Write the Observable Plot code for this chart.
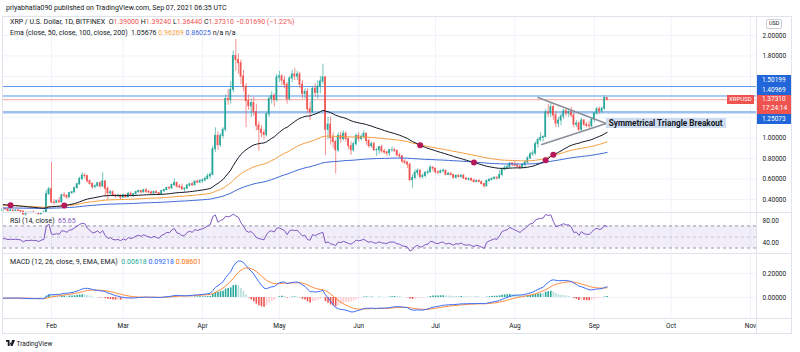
<!DOCTYPE html>
<html><head><meta charset="utf-8">
<script src="https://cdn.jsdelivr.net/npm/d3@7"></script>
<script src="https://cdn.jsdelivr.net/npm/@observablehq/plot@0.6"></script>
<style>
body{margin:0;background:#fff;font-family:Roboto,"Liberation Sans",sans-serif;}
#root{position:relative;width:800px;height:352px;overflow:hidden;background:#fff}
.p{position:absolute;left:0}
.t{position:absolute;font-size:7px;white-space:nowrap;color:#131722;line-height:1}
.ln{position:absolute;background:#e0e3eb}
.lab{position:absolute;left:757px;width:34px;color:#fff;font-size:6.5px;line-height:10px;padding-left:5px;box-sizing:border-box}
</style></head><body><div id="root"></div>
<script>
// ---------- DATA ----------
const startDate = "2021-01-13";
const firstOpen = 0.286;
// [high, low, close] per day; open = previous close
const jan = [[0.318,0.277,0.305],[0.316,0.294,0.303],[0.305,0.275,0.288],[0.301,0.283,0.293],[0.296,0.278,0.289],[0.298,0.283,0.292],[0.305,0.284,0.288],[0.290,0.266,0.283],[0.284,0.245,0.254],[0.276,0.240,0.270],[0.275,0.262,0.267],[0.276,0.263,0.271],[0.285,0.265,0.268],[0.272,0.258,0.268],[0.270,0.250,0.256],[0.272,0.254,0.268],[0.290,0.262,0.272],[0.490,0.268,0.452],[0.520,0.440,0.500]];
const feb = [[0.760,0.360,0.372],[0.400,0.345,0.368],[0.395,0.360,0.382],[0.420,0.365,0.372],[0.455,0.368,0.440],[0.465,0.418,0.436],[0.445,0.400,0.420],[0.470,0.415,0.462],[0.480,0.445,0.470],[0.520,0.462,0.512],[0.560,0.500,0.548],[0.620,0.540,0.600],[0.660,0.585,0.632],[0.650,0.600,0.628],[0.635,0.560,0.578],[0.590,0.540,0.552],[0.560,0.500,0.520],[0.545,0.505,0.530],[0.565,0.520,0.558],[0.575,0.510,0.528],[0.660,0.515,0.575],[0.585,0.420,0.505],[0.520,0.390,0.460],[0.490,0.440,0.470],[0.485,0.430,0.440],[0.450,0.410,0.432],[0.455,0.420,0.438],[0.445,0.395,0.418]];
const mar = [[0.455,0.410,0.440],[0.450,0.412,0.422],[0.470,0.418,0.455],[0.475,0.428,0.442],[0.460,0.420,0.452],[0.480,0.445,0.472],[0.490,0.460,0.482],[0.490,0.455,0.470],[0.500,0.465,0.490],[0.505,0.460,0.475],[0.490,0.455,0.468],[0.480,0.440,0.458],[0.485,0.445,0.472],[0.485,0.455,0.462],[0.470,0.440,0.452],[0.490,0.448,0.482],[0.500,0.470,0.492],[0.520,0.485,0.512],[0.525,0.495,0.508],[0.550,0.500,0.540],[0.600,0.530,0.560],[0.570,0.510,0.525],[0.545,0.505,0.520],[0.550,0.490,0.500],[0.515,0.470,0.505],[0.545,0.500,0.535],[0.560,0.520,0.548],[0.565,0.525,0.540],[0.585,0.530,0.572],[0.590,0.555,0.565],[0.595,0.555,0.578]];
const apr = [[0.600,0.560,0.585],[0.620,0.575,0.600],[0.650,0.590,0.625],[0.660,0.600,0.640],[0.920,0.630,0.890],[1.100,0.860,1.020],[1.060,0.880,0.930],[1.040,0.910,1.020],[1.100,0.990,1.080],[1.420,1.060,1.380],[1.470,1.320,1.370],[1.550,1.330,1.470],[1.850,1.440,1.800],[1.960,1.650,1.760],[1.820,1.620,1.730],[1.760,1.520,1.600],[1.660,1.450,1.500],[1.530,1.100,1.360],[1.420,1.270,1.310],[1.380,1.200,1.340],[1.400,1.210,1.250],[1.330,1.070,1.120],[1.160,0.870,1.080],[1.120,1.000,1.050],[1.080,0.980,1.030],[1.250,1.010,1.230],[1.400,1.200,1.380],[1.450,1.330,1.410],[1.430,1.300,1.370],[1.620,1.350,1.590]];
const may = [[1.650,1.540,1.600],[1.620,1.510,1.560],[1.600,1.480,1.520],[1.540,1.330,1.380],[1.600,1.360,1.580],[1.660,1.540,1.620],[1.680,1.560,1.600],[1.650,1.560,1.620],[1.640,1.480,1.520],[1.560,1.380,1.430],[1.480,1.380,1.450],[1.480,1.240,1.280],[1.350,1.170,1.250],[1.500,1.240,1.480],[1.530,1.400,1.440],[1.560,1.380,1.500],[1.600,1.430,1.550],[1.720,1.520,1.590],[1.600,0.830,1.080],[1.200,0.980,1.130],[1.200,0.930,1.000],[1.050,0.900,0.960],[0.980,0.650,0.880],[1.050,0.860,1.020],[1.060,0.950,0.990],[1.070,0.970,1.040],[1.060,0.960,0.990],[1.000,0.890,0.920],[0.960,0.830,0.880],[0.960,0.860,0.940],[1.040,0.920,1.020]];
const jun = [[1.050,0.960,0.990],[1.030,0.970,1.010],[1.070,0.990,1.040],[1.050,0.930,0.970],[0.990,0.900,0.920],[0.960,0.900,0.940],[0.960,0.870,0.880],[0.900,0.820,0.880],[0.920,0.840,0.910],[0.930,0.850,0.870],[0.890,0.840,0.860],[0.870,0.820,0.850],[0.890,0.820,0.880],[0.910,0.860,0.880],[0.900,0.860,0.875],[0.880,0.820,0.830],[0.850,0.800,0.820],[0.830,0.750,0.770],[0.790,0.740,0.760],[0.770,0.700,0.740],[0.750,0.570,0.590],[0.640,0.510,0.610],[0.690,0.590,0.660],[0.700,0.630,0.680],[0.690,0.600,0.620],[0.650,0.600,0.630],[0.670,0.610,0.660],[0.690,0.640,0.665],[0.730,0.660,0.710],[0.720,0.670,0.700]];
const jul = [[0.705,0.650,0.665],[0.680,0.640,0.660],[0.690,0.650,0.675],[0.700,0.660,0.680],[0.685,0.630,0.640],[0.665,0.630,0.650],[0.665,0.630,0.638],[0.645,0.600,0.612],[0.640,0.600,0.630],[0.640,0.610,0.620],[0.640,0.610,0.632],[0.640,0.595,0.605],[0.615,0.585,0.595],[0.610,0.575,0.600],[0.610,0.575,0.585],[0.600,0.560,0.570],[0.590,0.565,0.580],[0.595,0.565,0.570],[0.580,0.545,0.550],[0.560,0.510,0.530],[0.590,0.520,0.580],[0.600,0.570,0.592],[0.610,0.580,0.602],[0.620,0.590,0.612],[0.620,0.590,0.605],[0.680,0.600,0.640],[0.700,0.620,0.690],[0.730,0.680,0.705],[0.740,0.690,0.715],[0.760,0.700,0.750],[0.760,0.720,0.740]];
const aug = [[0.770,0.720,0.730],[0.750,0.710,0.720],[0.730,0.690,0.710],[0.750,0.700,0.740],[0.780,0.700,0.760],[0.820,0.750,0.800],[0.860,0.790,0.840],[0.880,0.820,0.850],[0.960,0.830,0.940],[1.000,0.900,0.980],[1.050,0.960,1.000],[1.020,0.960,1.010],[1.280,1.000,1.250],[1.330,1.200,1.240],[1.340,1.200,1.300],[1.320,1.170,1.220],[1.260,1.100,1.140],[1.200,1.100,1.170],[1.230,1.120,1.210],[1.280,1.180,1.260],[1.290,1.210,1.240],[1.280,1.200,1.250],[1.300,1.200,1.220],[1.240,1.100,1.130],[1.170,1.100,1.140],[1.160,1.060,1.080],[1.190,1.060,1.170],[1.180,1.110,1.130],[1.150,1.100,1.120],[1.160,1.090,1.115],[1.200,1.100,1.180]];
const sep = [[1.250,1.150,1.240],[1.300,1.220,1.280],[1.300,1.230,1.260],[1.300,1.240,1.285],[1.410,1.270,1.390],[1.3924,1.3644,1.3731]];

// indicator seeds (values on the day before the first candle)
const emaSeeds = {e50: 0.352, e100: 0.344, e200: 0.318};
const macdSeeds = {e12: 0.292, e26: 0.300, sig: -0.006};
const rsiSeeds = {gain: 0.018, loss: 0.022};

const priceTicks = [0.4, 0.6, 0.8, 1.0, 1.2, 1.4, 1.6, 1.8, 2.0];
const rsiTicks = [80, 40];
const rsiLevels = [70, 50, 30];
const macdTicks = [0.2, 0];
const monthNames = ["Feb","Mar","Apr","May","Jun","Jul","Aug","Sep","Oct","Nov"];
const monthDates = ["2021-02-01","2021-03-01","2021-04-01","2021-05-01","2021-06-01","2021-07-01","2021-08-01","2021-09-01","2021-10-01","2021-11-01"];
const hLevels = [
  {value: 1.50199, color: "#5d9cec", w: 1},
  {value: 1.40969, color: "#5d9cec", w: 1},
  {value: 1.25073, color: "#9cc1ee", w: 2.5}
];
const lastPrice = 1.37310;
const lastTime = "17:24:14";
const crossDates = ["2021-01-16","2021-02-06","2021-06-25","2021-07-16","2021-08-13","2021-08-16"];
const triUpper = [{date:"2021-08-10", value:1.395},{date:"2021-09-05T16:00Z", value:1.141}];
const triLower = [{date:"2021-08-11T12:00Z", value:0.937},{date:"2021-09-05T16:00Z", value:1.141}];
const annotationText = "Symmetrical Triangle Breakout";

// ---------- DERIVED ----------
const up = "#26a69a", down = "#ef5350";
const dayMs = 864e5;
const t0 = new Date(startDate + "T00:00Z").getTime();
const rows = [].concat(jan, feb, mar, apr, may, jun, jul, aug, sep);
let prevC = firstOpen;
const candles = rows.map(([h, l, c], i) => {
  const o = prevC; prevC = c;
  return {date: new Date(t0 + i * dayMs), open: o, high: Math.max(h, o, c), low: Math.min(l, o, c), close: c};
});
const closes = candles.map(d => d.close);
function ema(vals, n, seed) { const a = 2 / (n + 1); let e = seed; return vals.map(v => (e = e + a * (v - e))); }
const e50 = ema(closes, 50, emaSeeds.e50), e100 = ema(closes, 100, emaSeeds.e100), e200 = ema(closes, 200, emaSeeds.e200);
const emaData = candles.map((d, i) => ({date: d.date, e50: e50[i], e100: e100[i], e200: e200[i]}));
const e12 = ema(closes, 12, macdSeeds.e12), e26 = ema(closes, 26, macdSeeds.e26);
const macd = e12.map((v, i) => v - e26[i]);
const sig = ema(macd, 9, macdSeeds.sig);
const macdData = candles.map((d, i) => {
  const h = macd[i] - sig[i], ph = i ? macd[i-1] - sig[i-1] : h;
  const col = h >= 0 ? (h >= ph ? "#26a69a" : "#b2dfdb") : (h < ph ? "#ef5350" : "#ffcdd2");
  return {date: d.date, macd: macd[i], sig: sig[i], hist: h, col};
});
let ag = rsiSeeds.gain, al = rsiSeeds.loss;
const rsiData = candles.map((d, i) => {
  const ch = d.close - (i ? candles[i-1].close : firstOpen);
  ag = (ag * 13 + Math.max(ch, 0)) / 14; al = (al * 13 + Math.max(-ch, 0)) / 14;
  return {date: d.date, rsi: 100 - 100 / (1 + ag / al)};
});
const crosses = crossDates.map(s => { const i = Math.round((new Date(s + "T00:00Z") - t0) / dayMs); return {date: candles[i].date, value: e50[i]}; });
const months = monthDates.map((s, i) => ({date: new Date(s + "T00:00Z"), name: monthNames[i]}));
const tri = [triUpper, triLower].map(a => a.map(p => ({date: new Date(p.date.length > 10 ? p.date : p.date + "T00:00Z"), value: p.value})));

const xDomain = [new Date("2021-01-13T06:04Z"), new Date("2021-11-03T08:24Z")];
const W = 800, ML = 3, MR = 44;
const font = 'Roboto, "Liberation Sans", sans-serif';
const base = {width: W, marginLeft: ML, marginRight: MR, marginTop: 0, marginBottom: 0,
  x: {type: "utc", domain: xDomain, axis: null},
  style: {fontFamily: font, fontSize: "6.5px", color: "#131722", background: "transparent", overflow: "visible"}};
const gridX = Plot.ruleX(months, {x: "date", stroke: "#f0f3fa"});
const root = document.getElementById("root");
function place(el, top) { el.classList.add("p"); el.style.top = top + "px"; root.appendChild(el); return el; }

// main pane geometry and axis price labels (stacked like the reference)
const MAIN_TOP = 16, MAIN_H = 196;
const yDomain = [0.273, 2.185];
const yLin = d3.scaleLinear(yDomain, [MAIN_H, 0]);
const py = v => MAIN_TOP + yLin(v);
const redTop = py(lastPrice) - 4.5, redH = 19;
const boxes = [{top: redTop, h: redH, bg: "#ef5350", html: `${d3.format(".5f")(lastPrice)}<br>${lastTime}`}];
let limitTop = redTop, limitBot = redTop + redH;
hLevels.filter(l => l.value > lastPrice).sort((a, b) => a.value - b.value).forEach(l => {
  const bottom = Math.min(py(l.value) + 5, limitTop); boxes.push({top: bottom - 10, h: 10, bg: "#2166d8", html: d3.format(".5f")(l.value)}); limitTop = bottom - 10; });
hLevels.filter(l => l.value < lastPrice).sort((a, b) => b.value - a.value).forEach(l => {
  const top = Math.max(py(l.value) - 5, limitBot); boxes.push({top, h: 10, bg: "#2166d8", html: d3.format(".5f")(l.value)}); limitBot = top + 10; });
const visibleTicks = priceTicks.filter(v => { const y = py(v); return !boxes.some(b => y > b.top - 4 && y < b.top + b.h + 4); });

const main = Plot.plot({...base, height: MAIN_H,
  y: {domain: yDomain, axis: null},
  marks: [
    gridX,
    Plot.ruleY(priceTicks, {stroke: "#f0f3fa"}),
    Plot.axisY(visibleTicks, {anchor: "right", tickSize: 0, tickPadding: 6, tickFormat: d3.format(".5f"), fill: "#131722"}),
    Plot.ruleY(hLevels, {y: "value", stroke: "color", strokeWidth: "w"}),
    Plot.ruleY([lastPrice], {stroke: "#f5a3a3"}),
    Plot.ruleX(candles, {x: "date", y1: "low", y2: "high", stroke: d => d.close >= d.open ? up : down, strokeOpacity: 0.65}),
    Plot.rect(candles, {x1: d => new Date(+d.date - 0.33 * dayMs), x2: d => new Date(+d.date + 0.33 * dayMs), y1: "open", y2: "close", fill: d => d.close >= d.open ? up : down, insetTop: -0.5, insetBottom: -0.5}),
    Plot.line(emaData, {x: "date", y: "e200", stroke: "#3b67d6", strokeWidth: 1}),
    Plot.line(emaData, {x: "date", y: "e100", stroke: "#f59d3d", strokeWidth: 1}),
    Plot.line(emaData, {x: "date", y: "e50", stroke: "#131722", strokeWidth: 1}),
    Plot.dot(crosses, {x: "date", y: "value", fill: "#b5195b", r: 3}),
    Plot.line(tri[0], {x: "date", y: "value", stroke: "#8a8e97"}),
    Plot.line(tri[1], {x: "date", y: "value", stroke: "#8a8e97"})
  ]});
place(main, MAIN_TOP);

// RSI pane
const RSI_TOP = 212, RSI_H = 41;
const rsiPlot = Plot.plot({...base, height: RSI_H,
  y: {domain: [20, 94.5], axis: null},
  marks: [
    gridX,
    Plot.rect([{lo: rsiLevels[2], hi: rsiLevels[0]}], {y1: "lo", y2: "hi", fill: "#7e57c2", fillOpacity: 0.1}),
    Plot.ruleY([rsiLevels[0], rsiLevels[2]], {stroke: "#9598a1", strokeDasharray: "3,3"}),
    Plot.ruleY([rsiLevels[1]], {stroke: "#c3c6ce", strokeDasharray: "3,3"}),
    Plot.line(rsiData, {x: "date", y: "rsi", stroke: "#7e57c2", strokeWidth: 1}),
    Plot.axisY(rsiTicks, {anchor: "right", tickSize: 0, tickPadding: 6, tickFormat: d3.format(".2f"), fill: "#131722"})
  ]});
place(rsiPlot, RSI_TOP);

// MACD pane
const MACD_TOP = 253, MACD_H = 65;
const macdPlot = Plot.plot({...base, height: MACD_H,
  y: {domain: [-0.175, 0.3667], axis: null},
  marks: [
    gridX,
    Plot.ruleY(macdTicks, {stroke: "#f0f3fa"}),
    Plot.ruleX(macdData, {x: "date", y1: 0, y2: "hist", stroke: "col", strokeWidth: 1.6}),
    Plot.line(macdData, {x: "date", y: "sig", stroke: "#ff8a3d", strokeWidth: 1}),
    Plot.line(macdData, {x: "date", y: "macd", stroke: "#3d6ff5", strokeWidth: 1}),
    Plot.axisY(macdTicks, {anchor: "right", tickSize: 0, tickPadding: 6, tickFormat: d3.format(".5f"), fill: "#131722"})
  ]});
place(macdPlot, MACD_TOP);

// time axis
const AX_TOP = 318, AX_H = 15;
const axPlot = Plot.plot({...base, height: AX_H, y: {domain: [0, 1], axis: null},
  marks: [Plot.text(months, {x: "date", text: "name", frameAnchor: "middle", clip: true, fill: "#131722", fontSize: 6.5})]});
place(axPlot, AX_TOP);

// frame lines
function line(l, t, w, h) { const d = document.createElement("div"); d.className = "ln"; Object.assign(d.style, {left: l+"px", top: t+"px", width: w+"px", height: h+"px"}); root.appendChild(d); }
line(2, 16, 790, 1); line(2, 333, 790, 1); line(2, 16, 1, 318); line(791, 16, 1, 318);
line(2, RSI_TOP, 790, 1); line(2, MACD_TOP, 790, 1); line(2, AX_TOP, 790, 1); line(756, 16, 1, 318);

function text(html, l, t, extra) { const d = document.createElement("div"); d.className = "t"; d.innerHTML = html; d.style.left = l + "px"; d.style.top = t + "px"; if (extra) Object.assign(d.style, extra); root.appendChild(d); return d; }
const R = s => `<span style="color:#ef5350">${s}</span>`;
text("priyabhatia090 published on TradingView.com, Sep 07, 2021 06:35 UTC", 6, 4.5);
text(`XRP / U.S. Dollar, 1D, BITFINEX&nbsp; O${R("1.39000")} H${R("1.39240")} L${R("1.36440")} C${R("1.37310")} ${R("−0.01690 (−1.22%)")}`, 10, 18.5);
text(`Ema (close, 50, close, 100, close, 200)&nbsp; 1.05676 <span style="color:#f59d3d">0.96269</span> <span style="color:#3b67d6">0.86025</span> n/a n/a`, 10, 29.5);
text(`RSI (14, close)&nbsp; <span style="color:#7e57c2">65.65</span>`, 10, 217.5);
text(`MACD (12, 26, close, 9, EMA, EMA)&nbsp; <span style="color:#26a69a">0.00618</span> <span style="color:#2962ff">0.09218</span> <span style="color:#ff6d00">0.08601</span>`, 10, 258.5);
text("USD", 766, 19, {fontSize: "5.5px", border: "1px solid #c9ccd4", borderRadius: "2px", padding: "1px 2px"});

// axis price boxes
boxes.forEach(b => { const d = document.createElement("div"); d.className = "lab";
  d.style.cssText += `top:${b.top}px;height:${b.h}px;background:${b.bg};line-height:${b.h > 10 ? 9.5 : 10}px`; d.innerHTML = b.html; root.appendChild(d); });
// symbol label on the price line
text("XRPUSD", 727, py(lastPrice) - 4.5, {background: "#ef5350", color: "#fff", fontSize: "6px", padding: "1.5px 2px", lineHeight: "6px"});
// annotation at the apex of the triangle
const xs = main.scale("x");
const apex = tri[0][1];
text(annotationText, xs.apply(apex.date), py(apex.value) - 5, {background: "#cddcf0", fontWeight: "bold", fontSize: "8.2px", padding: "1px 3px", lineHeight: "8px"});

// footer
text(`<svg width="9" height="6" viewBox="0 0 36 24" style="vertical-align:-0.5px"><path d="M0 0h14v24H7V7H0z M16 10a4 4 0 1 0 0.01 0z M24 0h12L26 24h-8z" fill="#131722"/></svg> TradingView`, 6, 340, {fontSize: "6.5px"});
</script></body></html>
